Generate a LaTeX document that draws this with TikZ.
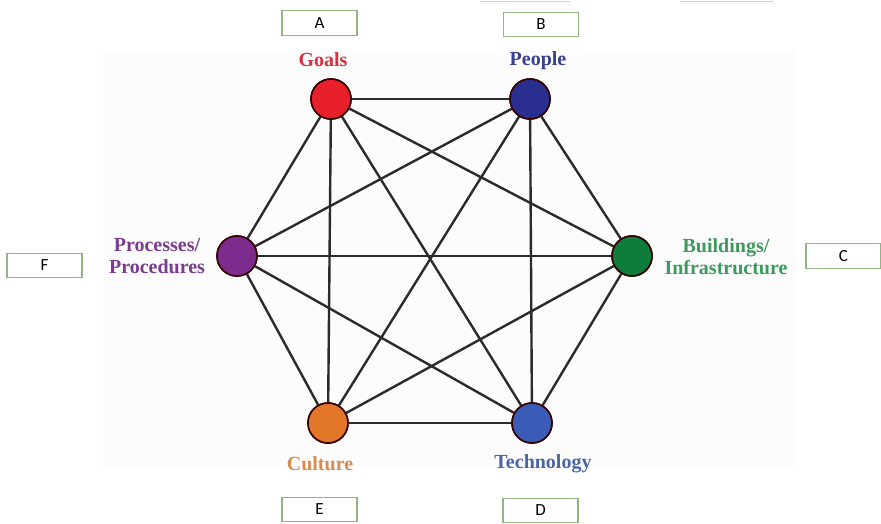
\documentclass[tikz,border=0pt]{standalone}
\usepackage{fontspec}
\setmainfont{Liberation Serif}
\newfontfamily\boxfont{Carlito}
\definecolor{lnk}{HTML}{2B2B2B}
\definecolor{cgoal}{HTML}{E8202A}
\definecolor{cpeople}{HTML}{2A2F8F}
\definecolor{cbuild}{HTML}{0E7D3C}
\definecolor{ctech}{HTML}{3A5CB8}
\definecolor{cculture}{HTML}{E2772A}
\definecolor{cproc}{HTML}{7D2A8D}
\definecolor{tgoal}{HTML}{D5313F}
\definecolor{tpeople}{HTML}{3A3F8F}
\definecolor{tbuild}{HTML}{3C9A5C}
\definecolor{ttech}{HTML}{4A65A2}
\definecolor{tculture}{HTML}{D98A4E}
\definecolor{tproc}{HTML}{7A3C8C}
\definecolor{boxedge}{HTML}{93B583}
\definecolor{panel}{HTML}{FCFCFC}
\tikzset{
  hub/.style={circle, draw=black!80!red, line width=1.6pt, minimum size=40pt, inner sep=0pt},
  link/.style={draw=lnk, line width=2.4pt},
  lbl/.style={font=\fontsize{20}{22}\selectfont\bfseries, align=center, inner sep=0pt},
  letterbox/.style={draw=boxedge, line width=1.2pt, fill=white, minimum width=75pt, minimum height=24.5pt, inner sep=0pt, font=\boxfont\fontsize{17}{17}\selectfont}
}
\begin{document}
\begin{tikzpicture}[x=1pt,y=-1pt]
\useasboundingbox (0,0) rectangle (881,524);
\fill[panel] (103,50) rectangle (797,468);
\draw[black!18, line width=1pt] (480,1.5) -- (570,1.5) (680,1.5) -- (773,1.5);

\node[hub, fill=cgoal]    (G) at (331,99) {};
\node[hub, fill=cpeople]  (P) at (530,99) {};
\node[hub, fill=cbuild]   (B) at (632,256) {};
\node[hub, fill=ctech]    (T) at (532,423) {};
\node[hub, fill=cculture] (C) at (328,423) {};
\node[hub, fill=cproc]    (R) at (237,256) {};

\foreach \a/\b in {G/P,G/B,G/T,G/C,G/R,P/B,P/T,P/C,P/R,B/T,B/C,B/R,T/C,T/R,C/R}
  \draw[link] (\a) -- (\b);
% redraw hubs on top
\node[hub, fill=cgoal]    at (G) {};
\node[hub, fill=cpeople]  at (P) {};
\node[hub, fill=cbuild]   at (B) {};
\node[hub, fill=ctech]    at (T) {};
\node[hub, fill=cculture] at (C) {};
\node[hub, fill=cproc]    at (R) {};

\node[lbl, text=tgoal]    (lG) at (323,60) {Goals};
\node[lbl, text=tpeople]  (lP) at (538,61) {People};
\node[lbl, text=tbuild]   (lB) at (726,257) {Buildings/\\Infrastructure};
\node[lbl, text=ttech]    (lT) at (543,464) {Technology};
\node[lbl, text=tculture] (lC) at (320,464) {Culture};
\node[lbl, text=tproc]    (lR) at (157,256) {Processes/\\Procedures};

\node[letterbox] (bA) at (319.5,23) {A};
\node[letterbox] (bB) at (541,24.5) {B};
\node[letterbox] (bC) at (843.5,256) {C};
\node[letterbox] (bD) at (540.5,510.5) {D};
\node[letterbox] (bE) at (319.5,509.5) {E};
\node[letterbox] (bF) at (44.5,265.5) {F};
\end{tikzpicture}
\end{document}
